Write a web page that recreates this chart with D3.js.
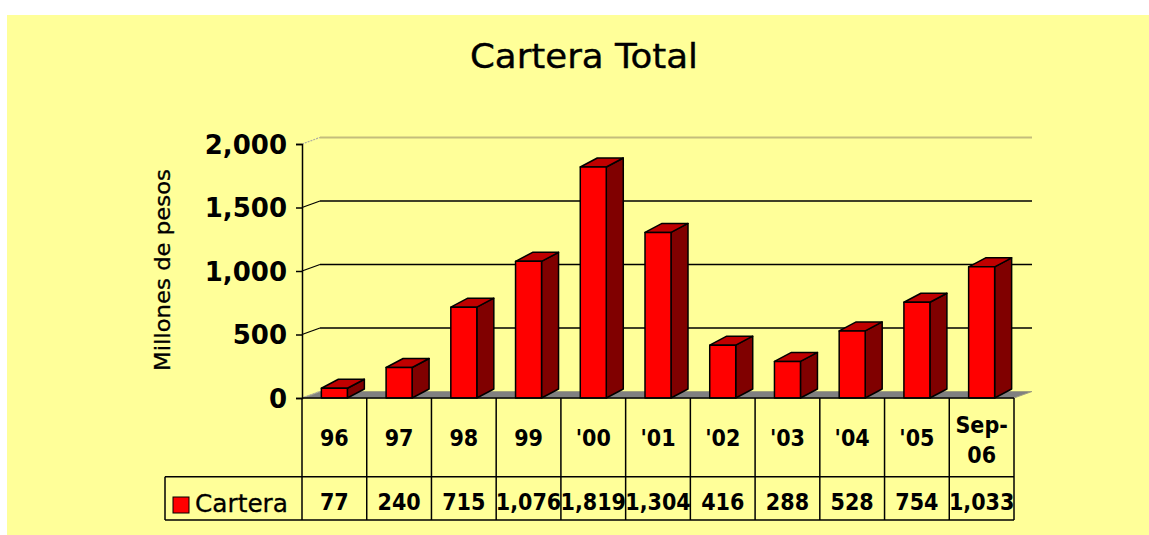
<!DOCTYPE html>
<html><head><meta charset="utf-8">
<script src="https://cdn.jsdelivr.net/npm/d3@7"></script>
<style>html,body{margin:0;padding:0;background:#fff;}svg{display:block;}</style>
</head><body>
<svg id="chart" width="1149" height="535"></svg>
<script>
const title = "Cartera Total";
const yAxisTitle = "Millones de pesos";
const seriesName = "Cartera";
const categories = ["96","97","98","99","'00","'01","'02","'03","'04","'05","Sep-06"];
const values = [77,240,715,1076,1819,1304,416,288,528,754,1033];
const yTicks = [0,500,1000,1500,2000];

const svg = d3.select("#chart");
const W = 1149, H = 535;
svg.append("rect").attr("x",7).attr("y",15).attr("width",W-7).attr("height",H-15).attr("fill","#ffff99");

const left = 302, right = 1014, y0 = 398, yTop = 144;
const dx = 18, dy = -6.5;       // depth of the plot walls
const bdx = 17, bdy = -9;       // depth of bars
const x = d3.scaleBand().domain(categories).range([left,right]).paddingInner(0).paddingOuter(0);
const y = d3.scaleLinear().domain([0,2000]).range([y0,yTop]);
const fmt = d3.format(",");
const tableFont = "'DejaVu Sans Condensed', 'DejaVu Sans', sans-serif";

// Title
svg.append("text").attr("x",584).attr("y",68).attr("text-anchor","middle")
  .attr("font-family","DejaVu Sans").attr("font-size",34).attr("fill","#000")
  .attr("stroke","#000").attr("stroke-width",0.4)
  .attr("textLength",228).attr("lengthAdjust","spacingAndGlyphs").text(title);

// Floor
svg.append("path").attr("d",`M${left},${y0}L${right},${y0}L${right+dx},${y0+dy}L${left+dx},${y0+dy}Z`)
  .attr("fill","#808080").attr("stroke","#a0a080").attr("stroke-width",1);

// Gridlines on back wall + diagonals on left wall
yTicks.forEach(t=>{
  const yy = y(t);
  const light = (t===0 || t===2000);
  if(t!==0){
    svg.append("line").attr("x1",left+dx).attr("x2",right+dx).attr("y1",yy+dy).attr("y2",yy+dy)
      .attr("stroke", light ? "#c4bd7c" : "#000").attr("stroke-width", light?2:1.5);
  }
  svg.append("line").attr("x1",left).attr("y1",yy).attr("x2",left+dx).attr("y2",yy+dy)
    .attr("stroke", light ? "#b0b0a0" : "#000").attr("stroke-width",1.3)
    .attr("stroke-dasharray", light ? "2,1" : null);
});

// Y axis
const yAxis = d3.axisLeft(y).tickValues(yTicks).tickSize(6).tickPadding(9).tickFormat(fmt);
const gy = svg.append("g").attr("transform",`translate(${left},0)`).call(yAxis);
gy.select(".domain").attr("stroke","#000").attr("stroke-width",1.5);
gy.selectAll(".tick line").attr("stroke","#000").attr("stroke-width",1.5);
gy.selectAll(".tick text").attr("font-family","DejaVu Sans").attr("font-weight","bold")
  .attr("font-size",26).attr("fill","#000").attr("dy","0.36em");

// Y axis title
svg.append("text").attr("transform","translate(170,270) rotate(-90)").attr("text-anchor","middle")
  .attr("font-family","DejaVu Sans").attr("font-size",21).attr("fill","#000")
  .attr("stroke","#000").attr("stroke-width",0.3)
  .attr("textLength",202).attr("lengthAdjust","spacingAndGlyphs").text(yAxisTitle);

// Bars
const bw = 26;
const bars = svg.append("g");
categories.forEach((c,i)=>{
  const v = values[i];
  const cx = x(c) + x.bandwidth()/2;
  const x0 = cx - bw/2, x1 = cx + bw/2;
  const yt = y(v);
  const g = bars.append("g").attr("stroke","#000").attr("stroke-width",1.5).attr("stroke-linejoin","round");
  g.append("path").attr("d",`M${x1},${y0}L${x1+bdx},${y0+bdy}L${x1+bdx},${yt+bdy}L${x1},${yt}Z`).attr("fill","#800000");
  g.append("path").attr("d",`M${x0},${yt}L${x0+bdx},${yt+bdy}L${x1+bdx},${yt+bdy}L${x1},${yt}Z`).attr("fill","#c00000");
  g.append("rect").attr("x",x0).attr("y",yt).attr("width",bw).attr("height",y0-yt).attr("fill","#ff0000");
});

// Data table
const rowTop = y0, rowMid = 476.7, rowBot = 520, legLeft = 165;
const tbl = svg.append("g").attr("stroke","#000").attr("stroke-width",1.5);
tbl.append("line").attr("x1",left).attr("x2",right).attr("y1",rowTop).attr("y2",rowTop);
tbl.append("line").attr("x1",legLeft).attr("x2",right).attr("y1",rowMid).attr("y2",rowMid);
tbl.append("line").attr("x1",legLeft).attr("x2",right).attr("y1",rowBot).attr("y2",rowBot);
tbl.append("line").attr("x1",legLeft).attr("x2",legLeft).attr("y1",rowMid).attr("y2",rowBot);
categories.forEach((c,i)=>{
  tbl.append("line").attr("x1",x(c)).attr("x2",x(c)).attr("y1",rowTop).attr("y2",rowBot);
});
tbl.append("line").attr("x1",right).attr("x2",right).attr("y1",rowTop).attr("y2",rowBot);

categories.forEach((c,i)=>{
  const cx = x(c) + x.bandwidth()/2;
  const t = svg.append("text").attr("text-anchor","middle").attr("font-family",tableFont)
    .attr("font-weight","bold").attr("font-size",23).attr("fill","#000");
  if(c.indexOf("-")>0){
    const parts = c.split("-");
    t.append("tspan").attr("x",cx).attr("y",433).text(parts[0]+"-");
    t.append("tspan").attr("x",cx).attr("y",463).text(parts[1]);
  } else {
    t.attr("x",cx).attr("y",446).text(c);
  }
  svg.append("text").attr("x",cx).attr("y",510).attr("text-anchor","middle").attr("font-family",tableFont)
    .attr("font-weight","bold").attr("font-size",23).attr("fill","#000").text(fmt(values[i]));
});

// Legend key in table
svg.append("rect").attr("x",173).attr("y",497).attr("width",16).attr("height",16)
  .attr("fill","#ff0000").attr("stroke","#000").attr("stroke-width",1);
svg.append("text").attr("x",195).attr("y",512).attr("font-family","DejaVu Sans").attr("font-size",24)
  .attr("fill","#000").attr("stroke","#000").attr("stroke-width",0.3)
  .attr("textLength",93).attr("lengthAdjust","spacingAndGlyphs").text(seriesName);
</script>
</body></html>
